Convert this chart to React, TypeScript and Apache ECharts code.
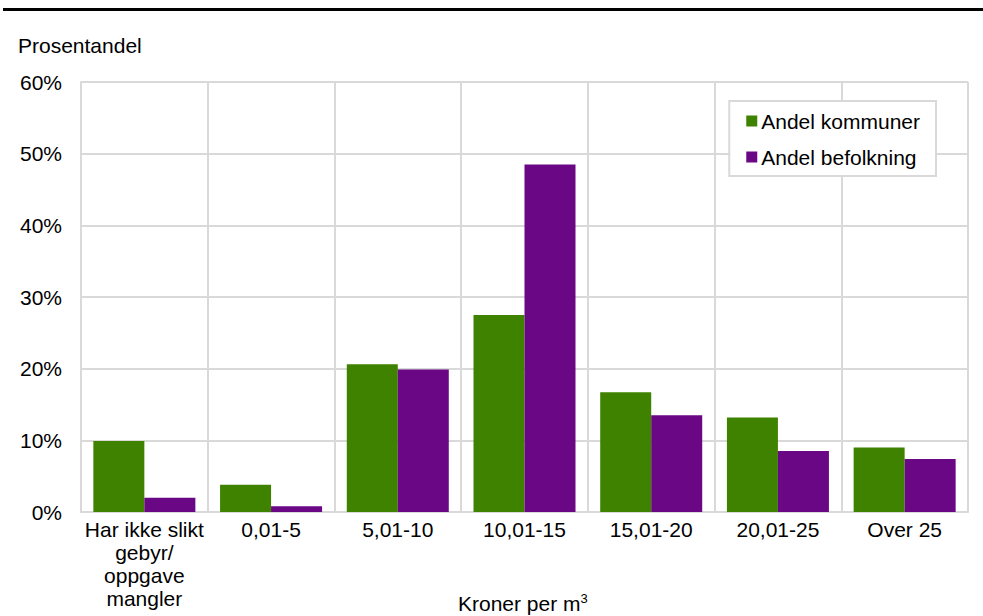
import React, { useEffect, useRef } from "react";
import * as echarts from "echarts";

const categories = ["Har ikke slikt\ngebyr/\noppgave\nmangler", "0,01-5", "5,01-10", "10,01-15", "15,01-20", "20,01-25", "Over 25"];
const andelKommuner = [9.9, 3.8, 20.6, 27.5, 16.7, 13.2, 9.0];
const andelBefolkning = [2.0, 0.8, 19.9, 48.5, 13.5, 8.5, 7.4];
const seriesNames = ["Andel kommuner", "Andel befolkning"];
const yTicks = { min: 0, max: 60, interval: 10 };

export default function App() {
  const ref = useRef<HTMLDivElement>(null);
  useEffect(() => {
    if (!ref.current) return;
    const chart = echarts.init(ref.current, null, { renderer: "svg" });
    const font = "Liberation Sans, Arial, sans-serif";
    const fs = 21;
    chart.setOption({
      animation: false,
      backgroundColor: "#ffffff",
      textStyle: { fontFamily: font },
      grid: { left: 81, right: 15, top: 82, bottom: 104, containLabel: false },
      graphic: [
        { type: "rect", shape: { x: 3, y: 8, width: 980, height: 3 }, style: { fill: "#000000" } },
        { type: "text", x: 18, y: 45, style: { text: "Prosentandel", fontSize: fs, fontFamily: font, fill: "#000", verticalAlign: "middle" } },
        {
          type: "text",
          x: 458,
          y: 603,
          style: {
            text: "Kroner per m{sup|3}",
            fontSize: fs,
            fontFamily: font,
            fill: "#000",
            verticalAlign: "middle",
            rich: { sup: { fontSize: 13, fontFamily: font, fill: "#000", verticalAlign: "top", padding: [0, 0, 10, 0] } },
          },
        },
      ],
      legend: {
        right: 47,
        top: 101,
        orient: "vertical",
        itemWidth: 11,
        itemHeight: 11,
        itemGap: 14,
        padding: [9, 16, 8, 17],
        borderColor: "#d9d9d9",
        borderWidth: 2,
        backgroundColor: "#fff",
        icon: "rect",
        textStyle: { fontSize: fs, lineHeight: 22, color: "#000", fontFamily: font, padding: [0, 0, 0, -1] },
        data: seriesNames,
      },
      xAxis: {
        type: "category",
        data: categories,
        axisLine: { show: true, lineStyle: { color: "#d9d9d9", width: 2 } },
        axisTick: { show: false },
        splitLine: { show: true, lineStyle: { color: "#d9d9d9", width: 2 } },
        axisLabel: { fontSize: fs, color: "#000", margin: 6, lineHeight: 23, interval: 0, fontFamily: font },
      },
      yAxis: {
        type: "value",
        min: yTicks.min,
        max: yTicks.max,
        interval: yTicks.interval,
        axisLine: { show: true, lineStyle: { color: "#d9d9d9", width: 2 } },
        axisTick: { show: false },
        splitLine: { show: true, lineStyle: { color: "#d9d9d9", width: 2 } },
        axisLabel: { fontSize: fs, color: "#000", margin: 19, formatter: "{value}%", fontFamily: font },
      },
      series: [
        {
          name: seriesNames[0],
          type: "bar",
          data: andelKommuner,
          itemStyle: { color: "#3f8200" },
          barGap: "0%",
          barCategoryGap: "19.5%",
        },
        {
          name: seriesNames[1],
          type: "bar",
          data: andelBefolkning,
          itemStyle: { color: "#6a0785" },
          barGap: "0%",
          barCategoryGap: "19.5%",
        },
      ],
    });
    return () => chart.dispose();
  }, []);
  return <div ref={ref} style={{ position: "fixed", left: 0, top: 0, width: 983, height: 616 }} />;
}
